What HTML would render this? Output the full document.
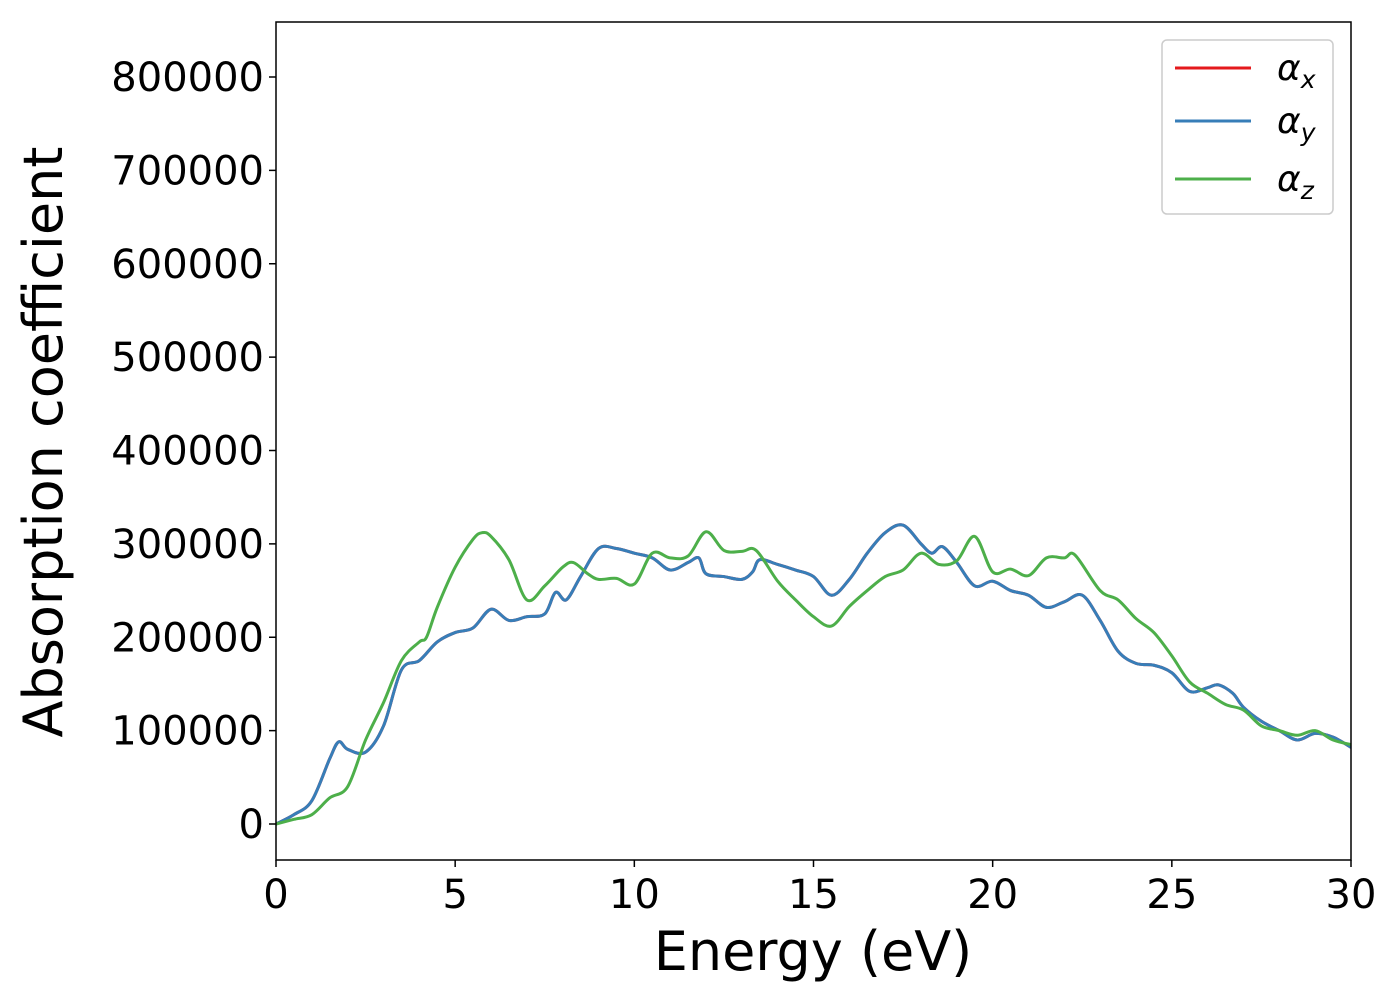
<!DOCTYPE html>
<html><head><meta charset="utf-8"><style>
body{margin:0;background:#fff;width:1400px;height:1000px;overflow:hidden}
svg{font-family:"DejaVu Sans","Liberation Sans",sans-serif}
</style></head><body>
<svg id="chart" width="1400" height="1000"></svg>
<script>
const energyBlue = [0,0.5,1,1.5,1.75,2,2.5,3,3.5,4,4.5,5,5.5,6,6.5,7,7.5,7.8,8.1,8.5,9,9.5,10,10.5,11,11.5,11.8,12,12.5,13,13.3,13.5,14,14.5,15,15.5,16,16.5,17,17.5,18,18.3,18.6,19,19.5,20,20.5,21,21.5,22,22.5,23,23.5,24,24.5,25,25.5,26,26.3,26.7,27,27.5,28,28.5,29,29.5,30];
const alphaXY = [0,10000,25000,70000,88000,80000,77000,105000,165000,175000,195000,205000,210000,230000,218000,222000,225000,248000,240000,265000,295000,295000,290000,285000,272000,280000,285000,268000,265000,262000,270000,283000,278000,272000,265000,245000,262000,290000,312000,320000,300000,290000,297000,280000,255000,260000,250000,245000,232000,238000,245000,218000,185000,172000,170000,162000,142000,146000,149000,140000,125000,110000,100000,90000,97000,93000,82000];
const energyGreen = [0,0.5,1,1.5,2,2.5,3,3.5,4,4.2,4.5,5,5.5,5.75,6,6.5,7,7.5,8,8.3,8.7,9,9.5,10,10.5,11,11.5,12,12.5,13,13.4,14,14.5,15,15.5,16,16.5,17,17.5,18,18.5,19,19.5,20,20.5,21,21.5,22,22.3,23,23.5,24,24.5,25,25.5,26,26.5,27,27.5,28,28.5,29,29.5,30];
const alphaZ = [0,5000,10000,28000,40000,90000,130000,175000,195000,200000,232000,275000,305000,312000,308000,283000,240000,255000,275000,280000,268000,262000,263000,257000,290000,285000,287000,313000,293000,292000,293000,260000,240000,222000,212000,233000,250000,265000,272000,290000,278000,282000,308000,270000,273000,266000,285000,285000,288000,250000,240000,220000,205000,180000,152000,140000,128000,122000,105000,100000,95000,100000,90000,85000];
const xTicks = [0,5,10,15,20,25,30];
const yTicks = [0,100000,200000,300000,400000,500000,600000,700000,800000];

const NS="http://www.w3.org/2000/svg";
const svg=document.getElementById('chart');
const L=276,R=1351,T=22,B=860;
const sx=v=>L+(v/30)*(R-L);
const sy=v=>824-v*(747/800000);
function mk(tag,attrs){const e=document.createElementNS(NS,tag);for(const k in attrs)e.setAttribute(k,attrs[k]);svg.appendChild(e);return e;}
function pathFor(xs,ys){
  const p=xs.map((x,i)=>[sx(x),sy(ys[i])]);
  let d=`M${p[0][0]},${p[0][1]}`;
  for(let i=0;i<p.length-1;i++){
    const p0=p[Math.max(0,i-1)],p1=p[i],p2=p[i+1],p3=p[Math.min(p.length-1,i+2)];
    const c1=[p1[0]+(p2[0]-p0[0])/6,p1[1]+(p2[1]-p0[1])/6];
    const c2=[p2[0]-(p3[0]-p1[0])/6,p2[1]-(p3[1]-p1[1])/6];
    d+=`C${c1[0]},${c1[1]} ${c2[0]},${c2[1]} ${p2[0]},${p2[1]}`;
  }
  return d;
}
const clip=mk('clipPath',{id:'c'});
const cr=document.createElementNS(NS,'rect');cr.setAttribute('x',L);cr.setAttribute('y',T);cr.setAttribute('width',R-L);cr.setAttribute('height',B-T);clip.appendChild(cr);

let e;
e=mk('path',{d:pathFor(energyBlue,alphaXY),fill:'none',stroke:'#e41a1c','stroke-width':3,'clip-path':'url(#c)'});


e=mk('path',{d:pathFor(energyBlue,alphaXY),fill:'none',stroke:'#377eb8','stroke-width':3,'clip-path':'url(#c)'});


e=mk('path',{d:pathFor(energyGreen,alphaZ),fill:'none',stroke:'#4daf4a','stroke-width':3,'clip-path':'url(#c)'});



e=mk('rect',{x:L,y:T,width:R-L,height:B-T,fill:'none',stroke:'#000','stroke-width':1.5});



xTicks.forEach(t=>{
  const x=sx(t);
  e=mk('line',{x1:x,x2:x,y1:B,y2:B+7,stroke:'#000','stroke-width':1.5});
  
  
  e=mk('text',{x:x,y:B+48,'font-size':40,'text-anchor':'middle'});e.textContent=t;
  
  
});
yTicks.forEach(t=>{
  const y=sy(t);
  e=mk('line',{x1:L-7,x2:L,y1:y,y2:y,stroke:'#000','stroke-width':1.5});
  
  
  e=mk('text',{x:L-12,y:y+14,'font-size':40,'text-anchor':'end'});e.textContent=t;
  
  
});
e=mk('text',{x:813,y:970,'font-size':54,'text-anchor':'middle'});e.textContent='Energy (eV)';


e=mk('text',{x:0,y:0,'font-size':54,'text-anchor':'middle',transform:'translate(62,442) rotate(-90)'});e.textContent='Absorption coefficient';



e=mk('rect',{x:1162,y:40,width:171,height:174,rx:5,fill:'#fff',stroke:'#ccc','stroke-width':1.5});


[['#e41a1c','x',68],['#377eb8','y',121],['#4daf4a','z',179]].forEach(([c,s,y])=>{
  e=mk('line',{x1:1175,x2:1251,y1:y,y2:y,stroke:c,'stroke-width':3});
  
  
  e=mk('text',{x:1277,y:y+12,'font-size':36,'font-style':'italic'});
  
  
  e.innerHTML='α<tspan font-size="25" dy="8">'+s+'</tspan>';
});
</script>
</body></html>
